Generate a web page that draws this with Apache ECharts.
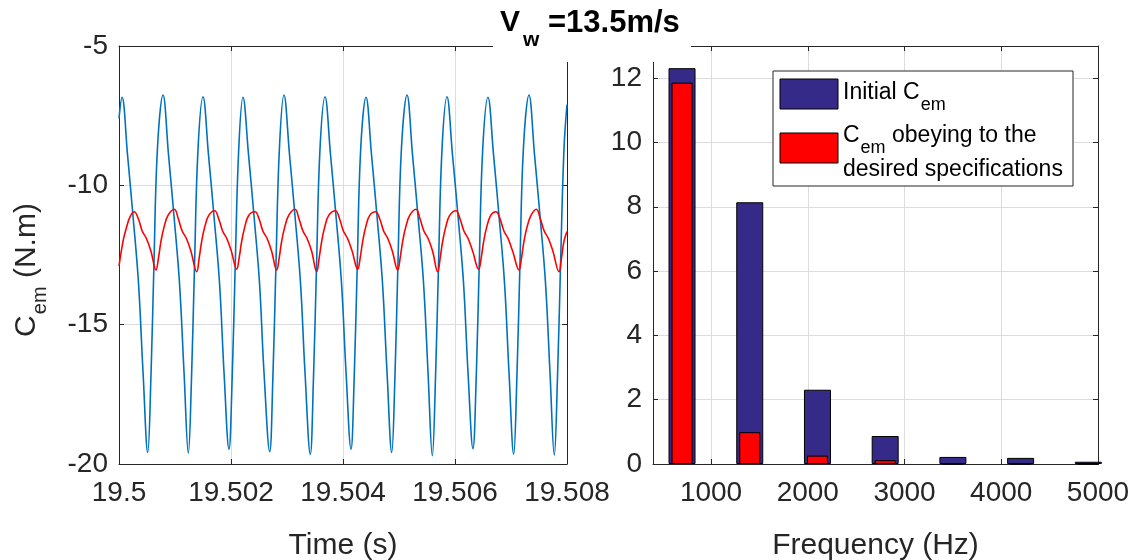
<!DOCTYPE html>
<html><head><meta charset="utf-8">
<script src="https://cdn.jsdelivr.net/npm/echarts@6/dist/echarts.min.js"></script>
<style>html,body{margin:0;padding:0;background:#fff}#c{width:1137px;height:560px}</style>
</head><body><div id="c"></div>
<script>
// ---- Left panel: electromagnetic torque vs time (time in microseconds after 19.5 s) ----
const timeOrigin = 19.5;
const blueTimeUs = [0, 54, 152, 250, 348, 429, 513, 570, 623, 686,
  786, 884, 982, 1080, 1161, 1238, 1295, 1348, 1411,
  1500, 1598, 1696, 1795, 1875, 1964, 2021, 2075, 2138,
  2214, 2313, 2411, 2509, 2589, 2691, 2748, 2802, 2864,
  2946, 3045, 3143, 3241, 3321, 3416, 3473, 3527, 3589,
  3679, 3777, 3875, 3973, 4054, 4143, 4200, 4254, 4316,
  4411, 4509, 4607, 4705, 4786, 4870, 4927, 4980, 5043,
  5143, 5241, 5339, 5438, 5518, 5595, 5652, 5705, 5768,
  5857, 5955, 6054, 6152, 6232, 6321, 6379, 6432, 6495,
  6589, 6688, 6786, 6884, 6964, 7048, 7105, 7159, 7221,
  7321, 7420, 7518, 7616, 7696, 7773, 7830, 7884, 7946, 8000];
const blueCem = [-7.6, -6.84, -8.9, -11.1, -13.5, -16.7, -19.59, -16.9, -12.9, -8.7,
  -6.76, -8.9, -11.1, -13.5, -16.7, -19.61, -16.9, -12.9, -8.7,
  -6.82, -8.9, -11.1, -13.5, -16.7, -19.47, -16.9, -12.9, -8.7,
  -6.84, -8.9, -11.1, -13.5, -16.7, -19.56, -16.9, -12.9, -8.7,
  -6.76, -8.9, -11.1, -13.5, -16.7, -19.65, -16.9, -12.9, -8.7,
  -6.82, -8.9, -11.1, -13.5, -16.7, -19.47, -16.9, -12.9, -8.7,
  -6.84, -8.9, -11.1, -13.5, -16.7, -19.59, -16.9, -12.9, -8.7,
  -6.76, -8.9, -11.1, -13.5, -16.7, -19.70, -16.9, -12.9, -8.7,
  -6.82, -8.9, -11.1, -13.5, -16.7, -19.45, -16.9, -12.9, -8.7,
  -6.84, -8.9, -11.1, -13.5, -16.7, -19.65, -16.9, -12.9, -8.7,
  -6.76, -8.9, -11.1, -13.5, -16.7, -19.68, -16.9, -12.9, -8.7, -7.1];
const redTimeUs = [0, 77, 138, 197,
  273, 345, 416, 488, 568, 661, 705, 750, 804, 875,
  988, 1059, 1130, 1202, 1282, 1388, 1432, 1477, 1530, 1602,
  1709, 1780, 1852, 1923, 2004, 2102, 2146, 2191, 2245, 2316,
  2429, 2500, 2571, 2643, 2723, 2816, 2861, 2905, 2959, 3030,
  3143, 3214, 3286, 3357, 3438, 3530, 3575, 3620, 3673, 3745,
  3866, 3938, 4009, 4080, 4161, 4263, 4307, 4352, 4405, 4477,
  4584, 4655, 4727, 4798, 4879, 4977, 5021, 5066, 5120, 5191,
  5304, 5375, 5446, 5518, 5598, 5691, 5736, 5780, 5834, 5905,
  6018, 6089, 6161, 6232, 6313, 6423, 6468, 6513, 6566, 6638,
  6732, 6804, 6875, 6946, 7027, 7143, 7188, 7232, 7286, 7357,
  7452, 7523, 7595, 7666, 7746, 7857, 7902, 7946, 8000];
const redCem = [-12.9, -11.96, -11.48, -11.13,
  -10.95, -11.2, -11.65, -11.9, -12.35, -13.04, -12.6, -12.0, -11.5, -11.08,
  -10.86, -11.2, -11.65, -11.9, -12.35, -13.10, -12.6, -12.0, -11.5, -11.08,
  -10.91, -11.2, -11.65, -11.9, -12.35, -13.01, -12.6, -12.0, -11.5, -11.08,
  -10.95, -11.2, -11.65, -11.9, -12.35, -13.04, -12.6, -12.0, -11.5, -11.08,
  -10.86, -11.2, -11.65, -11.9, -12.35, -13.10, -12.6, -12.0, -11.5, -11.08,
  -10.91, -11.2, -11.65, -11.9, -12.35, -13.01, -12.6, -12.0, -11.5, -11.08,
  -10.95, -11.2, -11.65, -11.9, -12.35, -13.04, -12.6, -12.0, -11.5, -11.08,
  -10.86, -11.2, -11.65, -11.9, -12.35, -13.10, -12.6, -12.0, -11.5, -11.08,
  -10.91, -11.2, -11.65, -11.9, -12.35, -13.01, -12.6, -12.0, -11.5, -11.08,
  -10.95, -11.2, -11.65, -11.9, -12.35, -13.04, -12.6, -12.0, -11.5, -11.08,
  -10.86, -11.2, -11.65, -11.9, -12.35, -13.10, -12.6, -12.0, -11.66];
const timeTicks = [19.5, 19.502, 19.504, 19.506, 19.508];
const cemTicks = [-20, -15, -10, -5];

// ---- Right panel: harmonic spectrum ----
const freqHz = [700, 1400, 2100, 2800, 3500, 4200, 4900];
const initialCem = [12.31, 8.14, 2.31, 0.87, 0.22, 0.19, 0.07];
const obeyingCem = [11.86, 0.99, 0.26, 0.12, 0, 0, 0];
const freqTicks = [1000, 2000, 3000, 4000, 5000];
const ampTicks = [0, 2, 4, 6, 8, 10, 12];

const FONT = '"Liberation Sans", Arial, Helvetica, sans-serif';
const INK = '#262626';
const GRIDC = '#dcdcdc';

const blueData = blueTimeUs.map((t, i) => [timeOrigin + t * 1e-6, blueCem[i]]);
const redData = redTimeUs.map((t, i) => [timeOrigin + t * 1e-6, redCem[i]]);
const plain = v => String(v);

function axisBase(extra) {
  return Object.assign({
    type: 'value',
    axisLine: { show: true, onZero: false, lineStyle: { color: INK, width: 1 } },
    axisTick: { show: true, inside: true, length: 5, lineStyle: { color: INK } },
    axisLabel: { color: INK, fontSize: 28, fontFamily: FONT },
    splitLine: { show: false },
    nameTextStyle: { color: INK, fontSize: 30, fontFamily: FONT }
  }, extra);
}

const chart = echarts.init(document.getElementById('c'), null, { renderer: 'canvas' });
chart.setOption({
  backgroundColor: '#fff',
  animation: false,
  grid: [
    { left: 119, top: 46, width: 448, height: 418, containLabel: false, outerBoundsMode: 'none' },
    { left: 653, top: 46, width: 445, height: 418, containLabel: false, outerBoundsMode: 'none' }
  ],
  xAxis: [
    axisBase({ gridIndex: 0, position: 'bottom', min: timeTicks[0], max: timeTicks[timeTicks.length - 1], interval: 0.002,
      axisLabel: { color: INK, fontSize: 28, fontFamily: FONT, margin: 15, formatter: plain },
      splitLine: { show: true, lineStyle: { color: GRIDC, width: 1 } },
      name: 'Time (s)', nameLocation: 'middle', nameGap: 67 }),
    axisBase({ gridIndex: 0, position: 'top', min: timeTicks[0], max: timeTicks[timeTicks.length - 1], interval: 0.002,
      axisLabel: { show: false } }),
    axisBase({ gridIndex: 1, position: 'bottom', min: 400, max: 5000,
      axisTick: { show: true, inside: true, length: 5, lineStyle: { color: INK }, customValues: freqTicks },
      axisLabel: { color: INK, fontSize: 28, fontFamily: FONT, margin: 15, customValues: freqTicks, formatter: plain },
      splitLine: { show: true, lineStyle: { color: GRIDC, width: 1 } },
      name: 'Frequency (Hz)', nameLocation: 'middle', nameGap: 67 }),
    axisBase({ gridIndex: 1, position: 'top', min: 400, max: 5000,
      axisTick: { show: true, inside: true, length: 5, lineStyle: { color: INK }, customValues: freqTicks },
      axisLabel: { show: false } })
  ],
  yAxis: [
    axisBase({ gridIndex: 0, position: 'left', min: cemTicks[0], max: cemTicks[cemTicks.length - 1], interval: 5,
      axisLabel: { color: INK, fontSize: 28, fontFamily: FONT, margin: 11, formatter: plain },
      splitLine: { show: true, lineStyle: { color: GRIDC, width: 1 } } }),
    axisBase({ gridIndex: 0, position: 'right', min: cemTicks[0], max: cemTicks[cemTicks.length - 1], interval: 5,
      axisLabel: { show: false } }),
    axisBase({ gridIndex: 1, position: 'left', min: 0, max: 13,
      axisTick: { show: true, inside: true, length: 5, lineStyle: { color: INK }, customValues: ampTicks },
      axisLabel: { color: INK, fontSize: 28, fontFamily: FONT, margin: 11, customValues: ampTicks, formatter: plain },
      splitLine: { show: true, lineStyle: { color: GRIDC, width: 1 } } }),
    axisBase({ gridIndex: 1, position: 'right', min: 0, max: 13,
      axisTick: { show: true, inside: true, length: 5, lineStyle: { color: INK }, customValues: ampTicks },
      axisLabel: { show: false } })
  ],
  series: [
    { type: 'line', xAxisIndex: 0, yAxisIndex: 0, data: blueData, showSymbol: false, smooth: 0.4,
      lineStyle: { color: '#0072BD', width: 1.6 }, z: 3 },
    { type: 'line', xAxisIndex: 0, yAxisIndex: 0, data: redData, showSymbol: false, smooth: 0.4,
      lineStyle: { color: '#FF0000', width: 1.6 }, z: 4 },
    { type: 'bar', name: 'Initial Cem', xAxisIndex: 2, yAxisIndex: 2, barWidth: 27,
      data: freqHz.map((f, i) => [f, initialCem[i]]),
      itemStyle: { color: '#352A87', borderColor: '#000', borderWidth: 1 }, z: 3 },
    { type: 'bar', name: 'Cem obeying to the desired specifications', xAxisIndex: 3, yAxisIndex: 2, barWidth: 21,
      data: freqHz.map((f, i) => [f, obeyingCem[i]]),
      itemStyle: { color: '#FF0000', borderColor: '#000', borderWidth: 1 }, z: 4 }
  ],
  graphic: [
    // title background (covers top box lines like the original)
    { type: 'rect', z: 100, shape: { x: 493, y: 0, width: 198, height: 62 }, style: { fill: '#fff' } },
    { type: 'text', z: 101, x: 500, y: 8,
      style: { text: '{v|V}{w|w}{t| =13.5m/s}', fill: '#000', align: 'left', verticalAlign: 'top',
        rich: {
          v: { fontSize: 30, fontWeight: 'bold', fontFamily: FONT, lineHeight: 30, verticalAlign: 'top', fill: '#000' },
          w: { fontSize: 21, fontWeight: 'bold', fontFamily: FONT, lineHeight: 21, padding: [22, 0, 0, 3], verticalAlign: 'top', fill: '#000' },
          t: { fontSize: 31, fontWeight: 'bold', fontFamily: FONT, lineHeight: 30, verticalAlign: 'top', fill: '#000' }
        } } },
    // y axis label of left panel
    { type: 'text', z: 101, x: 27, y: 270, rotation: Math.PI / 2,
      style: { text: '{c|C}{s|em}{c| (N.m)}', fill: INK, align: 'center', verticalAlign: 'middle',
        rich: {
          c: { fontSize: 30, fontFamily: FONT, lineHeight: 30, verticalAlign: 'top', fill: INK },
          s: { fontSize: 20, fontFamily: FONT, lineHeight: 20, padding: [18, 0, 0, 1], verticalAlign: 'top', fill: INK }
        } } },
    // legend of right panel
    { type: 'rect', z: 100, shape: { x: 773, y: 71, width: 300, height: 115 },
      style: { fill: '#fff', stroke: INK, lineWidth: 1 } },
    { type: 'rect', z: 101, shape: { x: 780, y: 79, width: 58, height: 30 },
      style: { fill: '#352A87', stroke: '#000', lineWidth: 1 } },
    { type: 'rect', z: 101, shape: { x: 780, y: 133, width: 58, height: 30 },
      style: { fill: '#FF0000', stroke: '#000', lineWidth: 1 } },
    { type: 'text', z: 101, x: 843, y: 81,
      style: { text: '{a|Initial C}{s|em}', verticalAlign: 'top',
        rich: {
          a: { fontSize: 23, fontFamily: FONT, lineHeight: 24, verticalAlign: 'top', fill: '#000' },
          s: { fontSize: 18, fontFamily: FONT, lineHeight: 18, padding: [15, 0, 0, 1], verticalAlign: 'top', fill: '#000' }
        } } },
    { type: 'text', z: 101, x: 843, y: 124,
      style: { text: '{a|C}{s|em}{a| obeying to the}', verticalAlign: 'top',
        rich: {
          a: { fontSize: 23, fontFamily: FONT, lineHeight: 24, verticalAlign: 'top', fill: '#000' },
          s: { fontSize: 18, fontFamily: FONT, lineHeight: 18, padding: [15, 0, 0, 1], verticalAlign: 'top', fill: '#000' }
        } } },
    { type: 'text', z: 101, x: 843, y: 158,
      style: { text: 'desired specifications', fontSize: 23, fontFamily: FONT, fill: '#000', verticalAlign: 'top' } }
  ]
});
</script>
</body></html>
